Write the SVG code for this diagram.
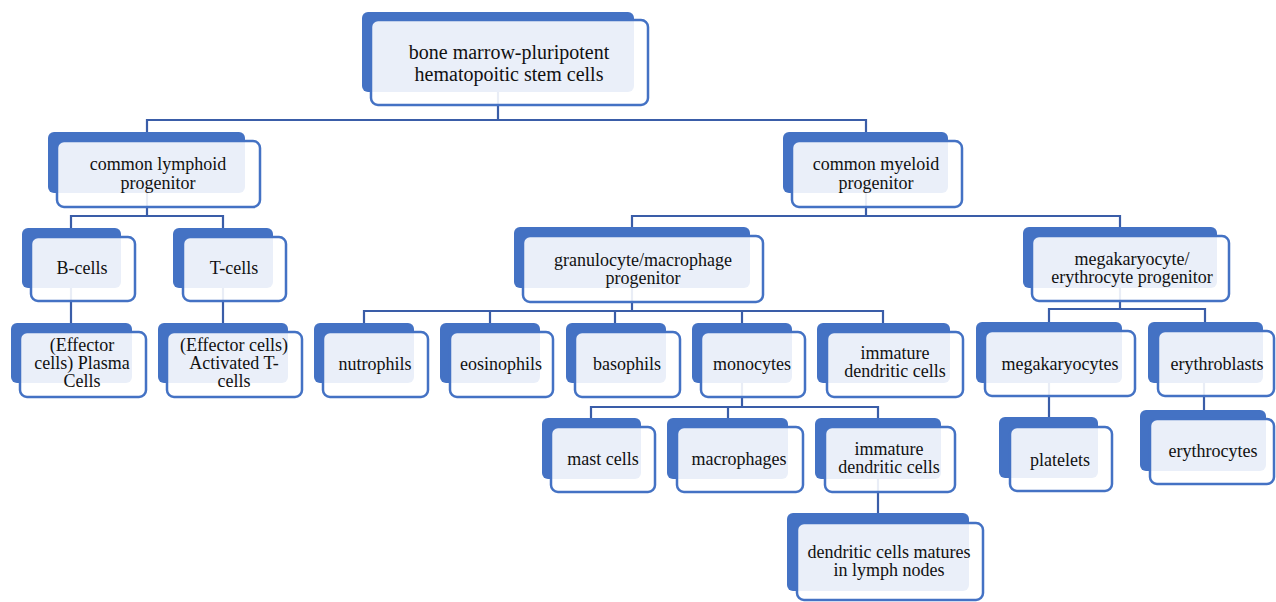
<svg xmlns="http://www.w3.org/2000/svg" width="1276" height="602" viewBox="0 0 1276 602">
<style>
.bk{fill:#4472C4}
.fr{fill:#ffffff;fill-opacity:0.89;stroke:#4472C4;stroke-width:2.5}
text{font-family:'Liberation Serif','DejaVu Serif',serif;font-size:18px;fill:#111;text-anchor:middle}
.tr{font-size:20px}
.c{fill:none;stroke:#3A5DA8;stroke-width:2.2}
</style>
<rect width="1276" height="602" fill="#ffffff"/>
<g id="connectors" class="c">
<path d="M498,92 V120"/>
<path d="M147,132 V120 H866 V132"/>
<path d="M147,193 V216"/>
<path d="M71,228 V216 H223 V228"/>
<path d="M71,288 V323"/>
<path d="M223,288 V323"/>
<path d="M866,193 V216"/>
<path d="M632,227 V216 H1120 V227"/>
<path d="M632,288 V311"/>
<path d="M364,323 V311 H883 V323"/>
<path d="M490,311 V323"/>
<path d="M615,311 V323"/>
<path d="M742,311 V323"/>
<path d="M742,383 V407"/>
<path d="M591,418 V407 H878 V418"/>
<path d="M728,407 V418"/>
<path d="M878,479 V513"/>
<path d="M1120,288 V309"/>
<path d="M1049,322 V309 H1205 V322"/>
<path d="M1049,383 V417"/>
<path d="M1204,383 V410"/>
</g>
<g id="root"><rect class="bk" x="362" y="12" width="272" height="80" rx="6"/><rect class="fr" x="371" y="20" width="277" height="85" rx="7"/><text class="tr" x="509" y="59" font-family="Liberation Serif, serif">bone marrow-pluripotent</text><text class="tr" x="509" y="81" font-family="Liberation Serif, serif">hematopoitic stem cells</text></g>
<g id="lymphoid"><rect class="bk" x="48" y="132" width="197" height="61" rx="6"/><rect class="fr" x="57" y="141" width="203" height="66" rx="7"/><text x="158" y="170">common lymphoid</text><text x="158" y="189">progenitor</text></g>
<g id="myeloid"><rect class="bk" x="783" y="132" width="165" height="61" rx="6"/><rect class="fr" x="792" y="141" width="170" height="66" rx="7"/><text x="876" y="170">common myeloid</text><text x="876" y="189">progenitor</text></g>
<g id="bcells"><rect class="bk" x="22" y="228" width="99" height="60" rx="6"/><rect class="fr" x="31" y="237" width="104" height="64" rx="7"/><text x="82" y="274">B-cells</text></g>
<g id="tcells"><rect class="bk" x="173" y="228" width="100" height="60" rx="6"/><rect class="fr" x="183" y="237" width="103" height="64" rx="7"/><text x="234" y="274">T-cells</text></g>
<g id="plasma"><rect class="bk" x="11" y="323" width="121" height="60" rx="6"/><rect class="fr" x="20" y="332" width="126" height="65" rx="7"/><text x="82" y="351">(Effector</text><text x="82" y="369">cells) Plasma</text><text x="82" y="387">Cells</text></g>
<g id="activated"><rect class="bk" x="158" y="323" width="130" height="60" rx="6"/><rect class="fr" x="167" y="332" width="135" height="65" rx="7"/><text x="234" y="351">(Effector cells)</text><text x="234" y="369">Activated T-</text><text x="234" y="387">cells</text></g>
<g id="granulocyte"><rect class="bk" x="514" y="227" width="236" height="61" rx="6"/><rect class="fr" x="523" y="236" width="240" height="66" rx="7"/><text x="643" y="266">granulocyte/macrophage</text><text x="643" y="284">progenitor</text></g>
<g id="megaery"><rect class="bk" x="1023" y="227" width="194" height="61" rx="6"/><rect class="fr" x="1032" y="236" width="197" height="65" rx="7"/><text x="1132" y="265">megakaryocyte/</text><text x="1132" y="283">erythrocyte progenitor</text></g>
<g id="nutrophils"><rect class="bk" x="314" y="323" width="100" height="60" rx="6"/><rect class="fr" x="323" y="332" width="105" height="65" rx="7"/><text x="375" y="370">nutrophils</text></g>
<g id="eosinophils"><rect class="bk" x="440" y="323" width="100" height="60" rx="6"/><rect class="fr" x="450" y="332" width="103" height="65" rx="7"/><text x="501" y="370">eosinophils</text></g>
<g id="basophils"><rect class="bk" x="566" y="323" width="100" height="60" rx="6"/><rect class="fr" x="575" y="332" width="105" height="65" rx="7"/><text x="627" y="370">basophils</text></g>
<g id="monocytes"><rect class="bk" x="692" y="323" width="100" height="60" rx="6"/><rect class="fr" x="701" y="332" width="104" height="65" rx="7"/><text x="752" y="370">monocytes</text></g>
<g id="immature1"><rect class="bk" x="817" y="323" width="133" height="60" rx="6"/><rect class="fr" x="827" y="332" width="136" height="65" rx="7"/><text x="895" y="359">immature</text><text x="895" y="377">dendritic cells</text></g>
<g id="megakaryocytes"><rect class="bk" x="976" y="322" width="146" height="61" rx="6"/><rect class="fr" x="985" y="331" width="150" height="65" rx="7"/><text x="1060" y="370">megakaryocytes</text></g>
<g id="erythroblasts"><rect class="bk" x="1148" y="322" width="115" height="61" rx="6"/><rect class="fr" x="1158" y="331" width="116" height="65" rx="7"/><text x="1217" y="370">erythroblasts</text></g>
<g id="mast"><rect class="bk" x="542" y="418" width="99" height="61" rx="6"/><rect class="fr" x="551" y="427" width="104" height="65" rx="7"/><text x="603" y="465">mast cells</text></g>
<g id="macrophages"><rect class="bk" x="667" y="418" width="121" height="61" rx="6"/><rect class="fr" x="677" y="427" width="126" height="65" rx="7"/><text x="739" y="465">macrophages</text></g>
<g id="immature2"><rect class="bk" x="815" y="418" width="126" height="61" rx="6"/><rect class="fr" x="825" y="427" width="130" height="65" rx="7"/><text x="889" y="455">immature</text><text x="889" y="473">dendritic cells</text></g>
<g id="dendritic"><rect class="bk" x="787" y="513" width="182" height="78" rx="6"/><rect class="fr" x="797" y="523" width="186" height="77" rx="7"/><text x="889" y="558">dendritic cells matures</text><text x="889" y="576">in lymph nodes</text></g>
<g id="platelets"><rect class="bk" x="999" y="417" width="99" height="61" rx="6"/><rect class="fr" x="1010" y="427" width="102" height="64" rx="7"/><text x="1060" y="466">platelets</text></g>
<g id="erythrocytes"><rect class="bk" x="1140" y="410" width="126" height="61" rx="6"/><rect class="fr" x="1150" y="419" width="124" height="65" rx="7"/><text x="1213" y="457">erythrocytes</text></g>
</svg>
